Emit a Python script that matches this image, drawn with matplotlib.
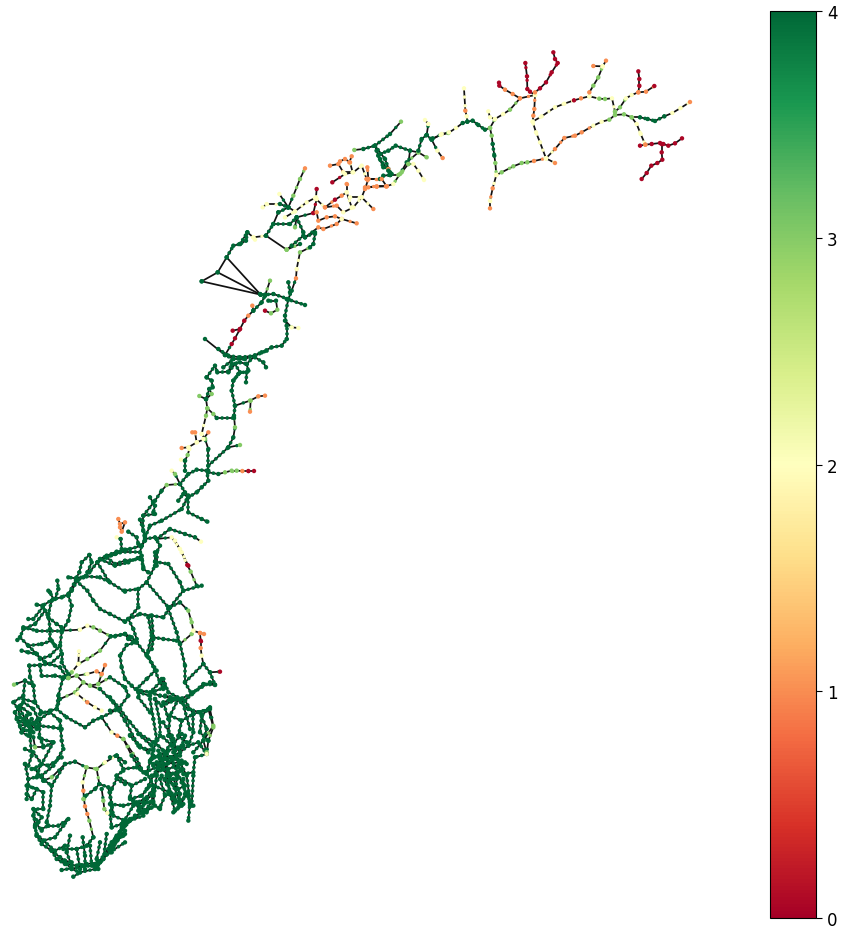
import matplotlib
matplotlib.use("Agg")
import matplotlib.pyplot as plt
from matplotlib.collections import LineCollection
from matplotlib.cm import ScalarMappable
from matplotlib.colors import Normalize

R, O, Y, L, G = 0.05, 1.0, 2.0, 3.0, 4.0

# Each road is a list of (x, y[, score]) nodes; default score is 4.
finnmark_roads = [
    [(38,328,G),(62,318,Y),(85,312,L),(108,297,Y),(128,282,G),(142,278,G),(158,275,G),(175,288,G),(195,302,G),(210,297,L)],
    [(132,178,Y),(136,245,O),(140,262,Y),(142,278,G)],
    [(210,297,L),(215,320,L),(218,345,G),(223,380,G),(226,402,L),(229,438,Y)],
    [(229,438,Y),(245,430,L),(280,412,L),(305,402,L),(322,400,L),(342,396,O),(378,388,Y)],
    [(229,438,Y),(218,478,O),(210,515,Y),(210,538,O)],
    [(378,388,Y),(405,402,O)],
    [(378,388,Y),(360,340,Y),(348,310,Y),(338,278,Y),(340,260,O),(343,240,O),(345,198,Y)],
    [(338,278,Y),(365,262,Y),(405,235,Y),(433,224,Y),(462,214,R),(483,208,O),(508,202,Y),(538,209,L),(555,210,L),(576,208,Y),(585,248,L)],
    [(508,202,Y),(508,190,O),(520,170,L),(535,145,L),(548,112,Y),(558,95,O)],
    [(520,111,O),(548,112,Y)],
    [(378,388,Y),(405,360,O),(433,327,O),(465,320,O),(485,310,O),(520,290,Y),(545,278,Y),(568,272,L),(585,258,L)],
    [(585,258,L),(612,256,L),(635,265,L),(660,265,G),(683,270,G),(705,276,G),(733,262,G),(757,252,Y),(782,237,Y),(810,219,O)],
    [(585,248,L),(600,235,L),(618,208,Y),(635,198,Y),(655,190,O),(678,188,O),(703,171,R)],
    [(655,190,O),(658,170,R),(658,150,R),(655,127,R)],
    [(635,265,L),(650,285,Y),(662,315,Y),(676,347,O)],
    [(660,350,R),(676,347,O),(695,345,R),(720,342,R),(730,345,R),(745,350,R),(765,343,R),(786,328,R)],
    [(725,345,R),(725,370,R),(727,392,R),(712,402,R),(694,410,R),(680,432,R),(665,450,R)],
    [(210,297,L),(225,270,Y),(250,255,Y),(270,242,L),(300,208,O),(345,198,Y)],
    [(205,247,Y),(210,265,Y),(225,270,Y)],
    [(300,208,O),(278,195,O),(255,182,O),(238,170,R),(237,161,R)],
    [(345,198,Y),(330,188,R),(322,180,R),(321,142,R),(316,102,R)],
    [(345,190,O),(360,178,R),(378,160,R),(395,130,R),(413,102,R),(405,90,R),(400,70,R)],
]

troms_roads = [
    [(163,123,L),(190,120,G),(225,110,G),(270,75,G),(303,38,L)],
    [(225,110,G),(235,140,G),(250,175,G),(265,180,O),(270,198,G),(295,198,L)],
    [(230,125,G),(240,150,G),(265,185,G),(275,195,G)],
    [(225,110,G),(255,150,G),(270,190,G)],
    [(240,135,G),(265,125,G),(287,110,G),(330,125,G),(355,130,L),(380,145,L)],
    [(355,130,L),(320,160,G),(300,195,L),(280,225,Y),(258,232,O),(230,233,O),(205,235,O)],
    [(325,165,L),(340,165,Y),(355,185,Y),(372,213,Y)],
    [(355,125,G),(365,90,G),(380,78,G),(395,92,G),(425,75,Y),(447,70,Y)],
    [(380,78,G),(385,45,Y),(375,33,Y)],
    [(395,92,G),(412,125,Y),(428,147,O)],
    [(330,125,G),(325,165,L),(305,190,L)],
    [(205,210,O),(240,210,G),(250,200,G),(270,198,G)],
]

nordland_sea_links = [
    [(45,630,G),(105,678,G)],
    [(35,457,G),(83,430,G),(110,385,G),(212,497,G)],
    [(35,457,G),(212,497,G)],
    [(83,430,G),(212,497,G)],
    [(228,320,G),(290,362,L)],
    [(250,285,G),(265,250,G)],
]

nordland_roads = [
    [(105,678,G),(125,645,R),(135,628,R),(150,600,R),(163,575,R),(175,560,O),(190,545,G),(215,520,G),(225,500,G)],
    [(128,605,R),(150,600,R)],
    [(100,715,G),(130,690,G),(105,678,G)],
    [(130,690,G),(165,690,G),(215,670,G),(245,655,G),(275,650,G),(290,630,G),(290,590,G),(285,560,G),(295,510,G),(250,495,G),(225,497,G),(210,495,G)],
    [(285,575,G),(305,595,Y),(325,597,Y)],
    [(290,510,G),(345,528,G)],
    [(295,460,G),(300,490,G)],
    [(295,510,G),(305,485,G),(318,448,O),(320,420,Y),(330,370,L),(360,355,G),(370,345,G),(375,315,G)],
    [(240,455,L),(225,500,G)],
    [(187,530,O),(190,545,G)],
    [(225,545,R),(243,553,L),(262,542,L),(258,515,G),(235,515,G)],
    [(110,385,G),(130,350,G),(150,345,G),(172,310,G),(190,325,Y),(228,320,G)],
    [(290,362,L),(330,345,G)],
    [(172,310,G),(168,335,G),(150,345,G)],
    [(190,325,Y),(195,332,Y)],
    [(228,320,G),(250,285,G),(300,285,G),(320,265,G),(340,310,G),(345,325,G),(375,310,G)],
    [(340,320,G),(305,350,G),(290,362,L)],
    [(265,250,G),(295,235,G)],
    [(218,235,Y),(230,225,Y),(270,225,G),(295,235,G),(268,195,Y)],
    [(295,235,G),(310,200,L),(330,150,L),(345,118,O)],
    [(295,235,G),(315,247,Y),(350,220,Y),(378,205,Y),(380,180,R)],
    [(320,265,G),(315,295,L)],
    [(285,265,Y),(315,247,Y)],
    [(320,265,G),(370,252,R),(380,210,Y)],
    [(378,210,Y),(405,235,O),(435,212,R),(455,200,O),(470,190,Y)],
    [(370,252,R),(380,250,O),(385,275,O),(410,265,O),(435,262,O),(455,270,O),(500,283,O)],
    [(345,325,G),(385,295,O),(400,300,O),(440,285,O),(455,270,Y)],
    [(405,235,O),(440,230,O),(460,250,Y),(490,235,Y),(515,205,Y),(550,240,O)],
    [(470,165,O),(470,190,Y),(485,235,Y)],
    [(480,205,Y),(515,205,Y),(525,180,O),(535,150,O),(532,115,O)],
    [(427,160,R),(465,135,Y),(490,130,Y),(515,110,Y),(530,150,O)],
    [(420,110,O),(445,105,O),(460,130,Y),(488,130,Y),(480,100,O),(465,90,O),(450,97,O)],
    [(485,82,O),(478,100,O)],
    [(530,150,O),(575,150,O),(590,172,O)],
    [(525,175,O),(560,172,O),(590,172,O)],
]

trondelag_roads = [
    [(0,630),(20,620),(50,608),(90,600),(125,590),(135,570),(165,565),(180,590),(170,610),(170,650)],
    [(0,630),(45,650),(85,640),(125,620),(130,655)],
    [(125,590),(135,575),(130,545),(130,500),(165,495)],
    [(120,512),(135,560)],
    [(135,565),(150,530),(185,515),(245,480),(265,440)],
    [(150,445),(165,470),(160,490)],
    [(130,500),(165,455),(185,425),(200,408,L),(240,405),(255,430),(265,440)],
    [(240,405),(225,375,L),(215,365,Y)],
    [(240,405),(265,375),(290,362),(320,365),(325,395),(305,415),(290,430),(265,445),(265,490),(305,510),(322,518)],
    [(235,455),(250,435),(265,445)],
    [(170,570),(210,540),(255,555),(285,565),(303,578,Y)],
    [(170,570),(215,565,Y),(240,600,Y),(265,650,R)],
    [(325,370),(355,375),(375,370,L),(395,365,L),(410,365,L),(427,366,O),(445,366,R),(462,366,R)],
    [(255,365),(255,335),(263,318,L),(268,300,Y)],
    [(243,332,Y),(255,335)],
    [(325,365),(325,300),(315,270,L),(305,255,Y)],
    [(325,350),(385,295),(420,288,L)],
    [(385,295),(400,265),(405,235,L),(402,200),(405,170)],
    [(315,270,L),(290,280,Y),(265,295,Y),(245,297,O)],
    [(290,280,Y),(285,250,O),(277,250,O)],
    [(310,270,Y),(325,250,O)],
    [(305,255,Y),(318,200,L),(322,178,L),(340,195,L),(350,207),(402,207)],
    [(322,178,L),(318,150),(298,141,L)],
    [(318,150),(335,135,L),(328,120),(318,150)],
    [(405,170),(395,125),(400,95),(420,70),(405,45),(385,70)],
    [(405,170),(450,155,L),(475,142,O),(495,140,O)],
    [(452,155,L),(450,188,O)],
    [(320,85),(335,95),(338,115),(328,120)],
    [(320,85),(345,50),(352,70),(385,68),(395,45),(420,40),(440,45)],
    [(440,70),(438,100)],
    [(440,45),(465,20),(500,5)],
    [(465,25),(490,40),(498,55)],
    [(440,45),(445,65),(415,75),(400,95)],
    [(355,0),(385,20),(420,25),(465,20)],
    [(55,510,O),(60,525,O),(75,520,O),(65,548,O),(60,535,O)],
    [(50,565,Y),(62,570),(65,600)],
    [(85,548),(110,565),(115,585)],
]

vestland_roads = [
    [(375,32),(345,45),(320,55),(292,70),(268,100),(250,115),(232,125),(215,155),(205,170)],
    [(268,48),(275,70),(262,100)],
    [(268,48),(245,70),(238,100),(228,118)],
    [(228,118),(205,115)],
    [(228,118),(260,112),(300,115),(330,130),(375,158)],
    [(292,70),(325,125)],
    [(320,55),(345,75),(375,65),(420,60)],
    [(228,125),(262,155),(280,185),(300,210),(330,225),(375,248)],
    [(228,122),(205,165),(185,175),(160,180),(150,160),(145,155)],
    [(172,125),(175,150),(165,180)],
    [(160,180),(128,200),(110,197)],
    [(205,170),(215,200),(205,245),(185,280),(180,320),(185,345)],
    [(128,205),(100,240),(85,240)],
    [(135,215),(105,255),(70,270),(60,295),(52,303)],
    [(155,185),(145,225),(150,270),(150,300),(165,320)],
    [(128,200),(145,235),(170,255),(185,265)],
    [(70,265),(110,275),(185,275),(240,272,Y),(262,260,Y),(280,265,L),(300,275,L),(332,292),(375,285)],
    [(332,292),(300,335,L),(262,360,L),(235,375,Y),(237,337,Y)],
    [(235,375,Y),(215,400,L),(205,417,L)],
    [(60,295),(85,320),(110,345),(120,360),(150,350),(180,320)],
    [(65,335),(85,340),(110,345)],
    [(85,320),(125,315),(155,305),(165,320)],
    [(110,345),(135,370),(150,375),(185,345)],
    [(88,380),(120,378),(150,375),(180,385),(200,415)],
    [(185,345),(185,370),(205,405)],
    [(88,380),(90,415),(100,440)],
    [(120,380),(125,410),(165,410),(190,415),(205,417,L)],
    [(205,417,L),(230,410,L),(250,430,L),(270,440,L),(295,435,L),(330,415),(375,445)],
    [(230,410,L),(262,405,Y),(290,397,O),(305,405,O),(315,378,O)],
    [(295,435,L),(305,405,O)],
    [(270,440,L),(300,450),(340,490),(375,545),(415,620)],
    [(250,430,L),(225,460,L),(180,480),(170,510)],
    [(232,465,Y),(262,490,O),(285,505,Y),(305,515,Y)],
    [(188,420),(175,470),(170,510),(150,515),(120,525)],
    [(100,440),(75,425),(42,437,L)],
    [(100,440),(105,490),(125,520)],
    [(75,425),(70,470),(40,490),(55,510),(60,535)],
    [(170,510),(200,535),(255,565),(280,545),(305,535),(355,510),(385,470),(375,445)],
    [(305,535),(335,580,Y),(352,590,O),(370,600,L),(395,650),(420,690)],
    [(390,590),(420,620),(445,640)],
    [(375,285),(385,300),(405,310)],
    [(345,292),(375,285),(395,295),(410,310),(380,318),(360,350),(365,385),(375,420),(395,440),(415,460),(450,470)],
    [(410,310),(445,355),(465,395),(480,430),(490,450)],
    [(465,395),(440,420),(410,450)],
    [(375,155),(415,150),(440,130),(465,80),(465,40)],
    [(415,150),(415,205),(385,240)],
    [(375,248),(385,240),(420,225),(455,230),(490,235),(510,205)],
    [(440,130),(505,205)],
    [(425,60),(430,90),(445,100)],
    [(320,55),(360,40),(420,40),(425,20)],
    [(465,68),(505,75),(540,130),(550,155),(510,205)],
    [(525,5,Y),(545,40,Y),(562,78,R),(572,98,L),(590,140)],
    [(550,155),(605,140)],
    [(510,205),(540,190),(565,215,L),(575,250,L),(580,275,Y),(575,285,L),(540,315)],
    [(505,210),(530,280),(540,315),(555,380),(555,430),(575,465)],
    [(455,230),(460,295),(490,300),(530,305)],
    [(385,240),(400,270),(410,300)],
    [(445,235),(455,290),(440,350)],
    [(460,300),(455,330),(440,345),(470,395)],
    [(580,275,Y),(600,282,O),(612,285,O)],
    [(600,282,O),(602,305,R),(602,327,O),(605,350,Y),(610,375),(630,400),(660,398,R)],
    [(610,375),(555,430)],
    [(630,400),(645,438),(610,435),(575,465)],
    [(575,465),(540,480),(495,470)],
    [(480,430),(450,460),(480,470),(520,480),(540,480)],
    [(530,480),(565,510),(600,520),(630,510),(640,560,L),(610,605),(620,640,L)],
    [(600,520),(620,570),(610,605),(580,640)],
    [(45,520),(70,490),(100,510),(115,540)],
    [(60,500),(90,525)],
    [(70,480),(105,490)],
]

oslo_roads = [
    [(120,60),(130,120),(140,180)],
    [(135,60),(150,130),(150,170)],
    [(205,60),(180,110),(175,170)],
    [(150,170),(130,210),(120,250),(110,280),(130,320),(125,370),(100,400)],
    [(175,170),(210,220),(225,170)],
    [(225,65),(250,105),(250,160),(235,200),(210,220),(170,240)],
    [(215,60),(240,150)],
    [(160,0),(175,40),(215,60)],
    [(155,0),(165,25),(125,40),(90,35),(85,55),(120,100)],
    [(130,230),(170,240),(210,230)],
    [(170,225),(170,290),(180,345),(195,395)],
    [(185,240),(215,310),(240,370),(250,380)],
    [(150,240),(140,290),(130,370)],
    [(200,230),(230,290),(240,370),(235,425)],
    [(105,280),(160,255),(210,250)],
    [(235,200),(265,190),(290,225),(255,235),(250,280),(220,285)],
    [(250,105),(295,90),(310,145,L),(295,185),(290,225,Y)],
    [(300,85),(275,110),(270,160),(295,185)],
    [(225,65),(250,40),(300,10),(315,17)],
    [(60,168),(90,205),(130,215)],
    [(85,165),(125,200)],
    [(40,180,L),(80,240),(100,280)],
    [(0,95),(30,90),(60,130),(90,165),(130,190)],
    [(0,55),(30,90)],
    [(20,230),(40,270),(80,265),(110,285)],
    [(20,290),(65,320),(60,355),(75,375),(100,400),(125,385)],
    [(0,235),(20,230)],
    [(20,290),(40,275)],
    [(65,320),(105,300)],
    [(0,375),(40,380),(80,370),(105,395),(65,420),(40,430),(15,490),(0,510)],
    [(180,345),(215,380),(190,400)],
    [(180,300),(210,365),(235,345),(240,380)],
    [(250,290),(245,380)],
    [(130,320),(180,340)],
    [(120,370),(150,390)],
    [(125,240),(175,215),(215,200)],
    [(130,255),(175,270),(225,250)],
    [(145,215),(180,290),(215,275)],
    [(165,225),(130,290),(110,330)],
    [(70,365),(90,385),(110,370),(85,395),(110,400)],
    [(135,60),(155,80),(205,60)],
    [(180,110),(215,125),(250,105)],
    [(185,170),(195,215)],
    [(160,175),(185,200),(215,165)],
    [(0,340),(10,410),(45,425)],
    [(45,425),(30,460),(60,420)],
    [(120,245),(150,225),(185,235),(215,245)],
    [(130,260),(165,240),(205,265)],
    [(145,270),(190,240),(230,255)],
    [(140,250),(175,290),(215,270)],
    [(125,290),(160,270),(200,290)],
    [(155,290),(190,350)],
    [(200,300),(195,370)],
    [(220,200),(190,220)],
    [(160,130),(190,180),(165,220)],
    [(135,190),(160,215)],
    [(0,500),(20,470),(45,440),(75,410),(110,395),(135,380)],
    [(5,520),(30,460),(60,425),(100,410)],
    [(40,430),(70,380),(100,370),(130,345)],
    [(60,360),(95,350),(120,320)],
    [(75,375),(110,355),(130,330)],
    [(175,345),(195,365),(220,375)],
    [(165,300),(205,330),(225,320)],
    [(190,300),(210,345),(205,385)],
    [(150,300),(165,350),(150,385)],
    [(220,300),(225,345),(215,375)],
    [(175,120),(160,70),(185,60)],
    [(215,125),(205,170),(230,190)],
]

agder_roads = [
    [(45,10),(65,70),(85,80)],
    [(60,0),(85,50),(115,30)],
    [(70,30),(100,70)],
    [(60,50),(110,40)],
    [(80,20),(90,80)],
    [(65,70),(115,50)],
    [(50,30),(90,55),(120,30)],
    [(70,60),(95,30),(110,60)],
    [(75,40),(100,45),(90,70)],
    [(120,30),(150,10),(180,35)],
    [(120,30),(118,85),(130,110)],
    [(180,35),(185,95),(190,120),(160,170),(125,200)],
    [(115,50),(160,55),(185,60)],
    [(125,90),(160,100),(125,165)],
    [(100,85),(105,115,L),(130,115),(160,100)],
    [(75,120),(100,130),(125,165),(145,170),(185,145)],
    [(90,80),(95,140),(85,170),(75,165)],
    [(75,165),(85,210),(80,270)],
    [(85,210),(125,200),(135,215),(155,230),(195,165),(225,158),(258,175,L),(290,180,L),(315,160,Y),(350,140),(375,160)],
    [(195,165),(155,205,L),(130,215)],
    [(105,180),(130,215)],
    [(155,230),(150,290),(140,340),(145,350)],
    [(85,230),(130,250),(130,300),(100,300),(105,350),(110,380)],
    [(105,305),(125,325),(110,345),(125,365)],
    [(125,360),(145,350),(175,350),(205,330),(190,350),(165,385),(130,395),(110,375)],
    [(260,175,L),(248,220,Y),(250,245,O),(252,270,L),(255,292,O),(262,315,O),(268,335,L),(280,385)],
    [(290,180,L),(298,225),(285,240),(255,262),(250,270,L)],
    [(298,225),(325,235),(335,290),(330,315),(335,355)],
    [(305,240),(310,275,L),(313,300,L),(322,312,Y)],
    [(375,225),(350,210),(335,240)],
    [(110,380),(125,405),(155,425),(180,445),(200,465),(215,480),(240,490),(285,480),(310,450),(340,410),(375,340)],
    [(185,483),(215,478)],
    [(220,503),(240,490)],
    [(210,380),(200,430),(215,470)],
    [(248,385),(255,440),(255,480)],
    [(230,420),(240,480)],
    [(280,385),(260,410),(230,420),(190,420)],
    [(300,400),(290,450),(295,480)],
    [(320,375),(310,450)],
    [(270,410),(275,470)],
    [(130,395),(165,425),(195,410)],
    [(335,355),(365,345),(375,340)],
    [(335,400),(375,375)],
    [(285,465),(330,430),(375,400)],
    [(100,320),(115,340),(105,355)],
    [(200,465),(230,470),(260,465),(300,460),(335,420),(375,365)],
    [(215,480),(250,470),(290,470),(330,410),(370,380)],
    [(285,480),(300,460),(345,390)],
    [(180,445),(195,455),(215,460)],
    [(155,425),(170,450),(195,465)],
    [(80,230),(110,240),(95,270),(80,255)],
    [(95,180),(120,170),(110,205)],
]

road_groups = [
    (finnmark_roads, 420, 30),
    (troms_roads, 300, 110),
    (nordland_roads, 190, 130),
    (trondelag_roads, 100, 350),
    (vestland_roads, 0, 540),
    (oslo_roads, 110, 680),
    (agder_roads, 0, 710),
]
sea_groups = [(nordland_sea_links, 190, 130)]
ZOOM = 3.0
cbar_ticks = [0, 1, 2, 3, 4]

cmap = plt.get_cmap("RdYlGn")
norm = Normalize(0, 4)

fig = plt.figure(figsize=(8.45, 9.29), dpi=100)
ax = fig.add_axes([0, 0, 1, 1])
ax.set_xlim(0, 845)
ax.set_ylim(929, 0)
ax.axis("off")


def nodes(road, ox, oy):
    return [(ox + p[0] / ZOOM, oy + p[1] / ZOOM, p[2] if len(p) > 2 else 4.0) for p in road]


edges, dots_full, dots_full_c, dots_sparse, dots_sparse_c, nx, ny, nv = [], [], [], [], [], [], [], []
for roads, ox, oy in sea_groups:
    for road in roads:
        pts = nodes(road, ox, oy)
        edges += [[(a[0], a[1]), (b[0], b[1])] for a, b in zip(pts[:-1], pts[1:])]
        for x, y, v in pts:
            nx.append(x); ny.append(y); nv.append(v)

for roads, ox, oy in road_groups:
    for road in roads:
        pts = nodes(road, ox, oy)
        for a, b in zip(pts[:-1], pts[1:]):
            seg = [(a[0], a[1]), (b[0], b[1])]
            edges.append(seg)
            val = min(a[2], b[2])
            if val >= 4:
                dots_full.append(seg); dots_full_c.append(cmap(norm(val)))
            else:
                dots_sparse.append(seg); dots_sparse_c.append(cmap(norm(a[2])))
        for x, y, v in pts:
            nx.append(x); ny.append(y); nv.append(v)

ax.add_collection(LineCollection(edges, colors="#111111", linewidths=1.25, zorder=1))
ax.add_collection(LineCollection(dots_full, colors=dots_full_c, linewidths=2.7,
                                 linestyles=[(0, (0.01, 1.35))], capstyle="round", zorder=2))
ax.add_collection(LineCollection(dots_sparse, colors=dots_sparse_c, linewidths=2.5,
                                 linestyles=[(0, (0.01, 2.5))], capstyle="round", zorder=2))
ax.scatter(nx, ny, c=nv, cmap=cmap, norm=norm, s=10, linewidths=0, zorder=3)

cax = fig.add_axes([770 / 845, 1 - 919 / 929, 46 / 845, 907 / 929])
cb = fig.colorbar(ScalarMappable(norm=norm, cmap=cmap), cax=cax, ticks=cbar_ticks)
cb.ax.tick_params(labelsize=12, length=4, width=0.8, pad=4)

fig.savefig("out.png", dpi=100)
